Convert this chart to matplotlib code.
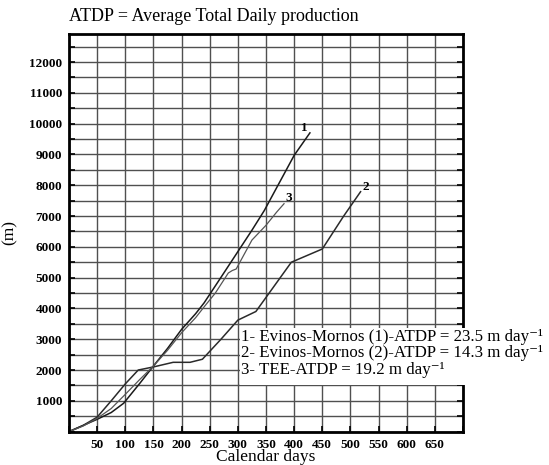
import matplotlib
matplotlib.use("Agg")
import matplotlib.pyplot as plt
from matplotlib.patches import Rectangle

plt.rcParams['font.family'] = ['Liberation Serif', 'DejaVu Serif']

# curve 1 - Evinos-Mornos (1)
days_1 = [0, 25, 50, 75, 97, 125, 150, 175, 200, 225, 240, 270, 325, 347, 400, 428]
prod_1 = [0, 200, 400, 620, 920, 1550, 2130, 2700, 3320, 3830, 4180, 5010, 6540, 7180, 8970, 9700]

# curve 2 - Evinos-Mornos (2)
days_2 = [0, 25, 50, 75, 100, 123, 150, 185, 215, 237, 270, 300, 332, 395, 450, 488, 518]
prod_2 = [0, 200, 470, 1000, 1550, 2000, 2100, 2250, 2250, 2350, 3000, 3620, 3900, 5500, 5930, 7000, 7790]

# curve 3 - TEE
days_3 = [0, 25, 50, 75, 100, 125, 150, 175, 200, 225, 240, 260, 283, 290, 297, 325, 350, 369, 382]
prod_3 = [0, 180, 430, 750, 1210, 1680, 2130, 2640, 3210, 3700, 4050, 4500, 5150, 5230, 5280, 6220, 6700, 7130, 7400]

x_ticks = list(range(50, 700, 50))
y_ticks = list(range(1000, 13000, 1000))

legend_lines = [
    "1- Evinos-Mornos (1)-ATDP = 23.5 m day\u207b\u00b9",
    "2- Evinos-Mornos (2)-ATDP = 14.3 m day\u207b\u00b9",
    "3- TEE-ATDP = 19.2 m day\u207b\u00b9",
]

fig = plt.figure(figsize=(5.49, 4.65), dpi=100)
ax = fig.add_axes([0.1257, 0.0718, 0.7177, 0.8544])

ax.plot(days_1, prod_1, color='#1a1a1a', lw=1.1)
ax.plot(days_2, prod_2, color='#2a2a2a', lw=1.1)
ax.plot(days_3, prod_3, color='#555555', lw=0.9)

# curve number labels
ax.text(418, 9870, "1", fontsize=9.5, fontweight='bold', ha='center', va='center')
ax.text(527, 7940, "2", fontsize=9.5, fontweight='bold', ha='center', va='center')
ax.text(390, 7580, "3", fontsize=9.5, fontweight='bold', ha='center', va='center')

ax.set_xlim(0, 700)
ax.set_ylim(0, 12900)
ax.set_xticks(x_ticks)
ax.set_yticks(y_ticks)
ax.set_xticks(range(0, 701, 50), minor=True)
ax.set_yticks(range(0, 12901, 500), minor=True)
ax.grid(True, which='both', color='#505050', lw=1.0)
ax.tick_params(which='both', direction='in', length=4, width=1.2, top=False, right=True,
               labelsize=9.5, pad=5)
for lab in ax.get_xticklabels() + ax.get_yticklabels():
    lab.set_fontweight('bold')
for sp in ax.spines.values():
    sp.set_linewidth(2)

ax.set_xlabel("Calendar days", fontsize=12.5, labelpad=-1)
ax.set_ylabel("(m)", fontsize=12.5)
ax.yaxis.set_label_coords(-0.13, 0.5)
fig.text(0.1257, 0.947, "ATDP = Average Total Daily production", fontsize=13, ha='left', va='bottom')

# white box with the legend text
fig.patches.append(Rectangle((240 / 549, 1 - 385 / 465), 309 / 549, 57 / 465,
                             transform=fig.transFigure, facecolor='white', edgecolor='none', zorder=5))
fig.text(241 / 549, 1 - 329 / 465, "\n".join(legend_lines), fontsize=12.2, ha='left', va='top',
         linespacing=1.03, zorder=6)

fig.savefig("out.png", dpi=100)
